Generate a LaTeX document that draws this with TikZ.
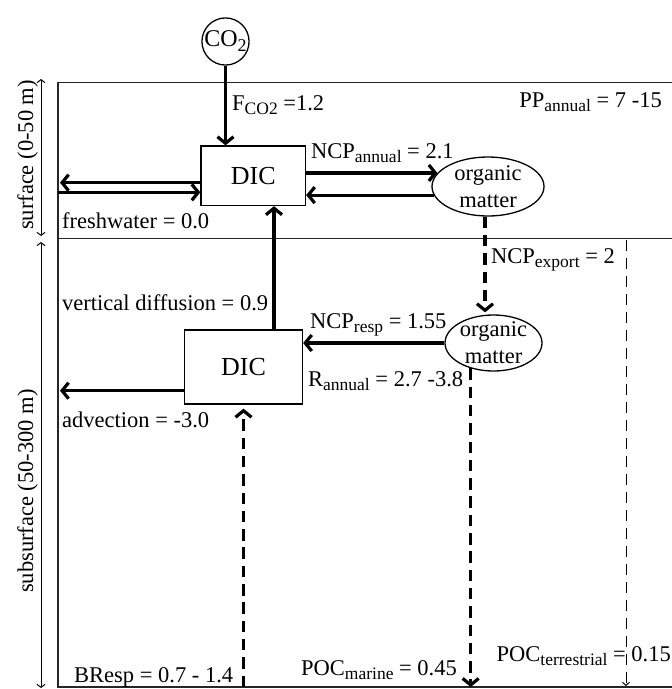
\documentclass[tikz,border=0pt]{standalone}
\usepackage{fontspec}
\setmainfont{Liberation Serif}
\usetikzlibrary{arrows.meta,shapes.geometric}
\newcommand\sbs[1]{\raisebox{-4.5pt}{\fontsize{17.5}{17.5}\selectfont #1}}
\begin{document}
\begin{tikzpicture}[x=1pt,y=-1pt,
  lbl/.style={font=\fontsize{22.5}{27}\selectfont, inner sep=0pt},
  boxn/.style={draw, line width=1.3pt, font=\fontsize{26}{30}\selectfont, inner sep=0pt},
  omell/.style={draw, ellipse, line width=1.3pt, inner sep=0pt},
  frameline/.style={line width=1.4pt, draw=black!85},
  arr/.style={line width=3.2pt, -{Straight Barb[length=6.5pt,width=16pt]}},
  darr/.style={arr, dash pattern=on 11.5pt off 6.8pt},
  tarr/.style={line width=1pt, dash pattern=on 11pt off 7pt, -{Straight Barb[length=3pt,width=7pt]}},
  dimarr/.style={line width=1pt, {Straight Barb[length=3pt,width=8pt]}-{Straight Barb[length=3pt,width=8pt]}}
]
\useasboundingbox (0,0) rectangle (672,689);

% frame
\coordinate (tl) at (58,82.5);
\coordinate (tr) at (672,82.5);
\coordinate (ml) at (58,238.5);
\coordinate (mr) at (672,238.5);
\coordinate (bl) at (58,687);
\coordinate (br) at (672,687);
\draw[frameline] (tr) -- (tl) -- (bl) -- (br);
\draw[frameline] (ml) -- (mr);

% depth arrows
\coordinate (s1) at (41,79);
\coordinate (s2) at (41,236);
\coordinate (s3) at (41,242);
\coordinate (s4) at (41,688);
\draw[dimarr] (s1) -- (s2);
\draw[dimarr] (s3) -- (s4);
\node[lbl, rotate=90, anchor=base] (surf) at (33,155) {surface (0-50 m)};
\node[lbl, rotate=90, anchor=base] (subsurf) at (33,491) {subsurface (50-300 m)};

% nodes
\node[draw, circle, line width=1.3pt, minimum size=47pt, inner sep=0pt, font=\fontsize{24}{28}\selectfont] (co2) at (225.5,41.5) {CO\raisebox{-5pt}{\fontsize{18}{18}\selectfont 2}};
\node[boxn, minimum width=104.5pt, minimum height=59.5pt] (dic1) at (253.25,175.75) {DIC};
\node[boxn, minimum width=118pt, minimum height=74pt] (dic2) at (243.5,367) {DIC};
\node[omell, minimum width=112pt, minimum height=59pt] (om1) at (488,186.5) {};
\node[lbl, align=center] (om1t) at (om1) {organic\\matter};
\node[omell, minimum width=97pt, minimum height=56pt] (om2) at (493.5,343) {};
\node[lbl, align=center] (om2t) at (om2) {organic\\matter};

% connectors
\draw[arr] (co2.south) -- (co2.south |- dic1.north);
\coordinate (fl1) at (60,182.7);
\coordinate (fl2) at (58,192.3);
\draw[arr] (dic1.west |- fl1) -- (fl1);
\draw[arr] (fl2) -- (dic1.west |- fl2);
\draw[arr] (dic1.east |- om1.165) -- (om1.165);
\draw[arr] (om1.189) -- (dic1.east |- om1.189);
\coordinate (vd) at (274,0);
\draw[arr] (dic2.north -| vd) -- (dic1.south -| vd);
\draw[darr, shorten >=2pt] ([xshift=-3pt]om1.south) -- ([xshift=-3pt]om1.south |- om2.north);
\draw[arr] (om2.west) -- (dic2.east |- om2.west);
\draw[darr] (om2.228) -- (om2.228 |- bl);
\draw[darr, shorten >=4pt] (dic2.south |- bl) -- (dic2.south);
\coordinate (t1) at (626,239.5);
\coordinate (t2) at (626,686);
\draw[tarr] (t1) -- (t2);
\coordinate (adv) at (60,390.7);
\draw[arr] (dic2.west |- adv) -- (adv);

% labels
\node[lbl, anchor=base west] (lfco2) at (232,110) {F\sbs{CO2} =1.2};
\node[lbl, anchor=base west] (lfw) at (62,228) {freshwater = 0.0};
\node[lbl, anchor=base west] (lncpa) at (311,158) {NCP\sbs{annual} = 2.1};
\node[lbl, anchor=base east] (lpp) at (662,107) {PP\sbs{annual} = 7 -15};
\node[lbl, anchor=base west] (lncpe) at (491,263) {NCP\sbs{export} = 2};
\node[lbl, anchor=base west] (lvd) at (62,310) {vertical diffusion = 0.9};
\node[lbl, anchor=base west] (lncpr) at (310,328) {NCP\sbs{resp} = 1.55};
\node[lbl, anchor=base west] (lra) at (308,386) {R\sbs{annual} = 2.7 -3.8};
\node[lbl, anchor=base west] (ladv) at (62,427) {advection = -3.0};
\node[lbl, anchor=base west] (lbr) at (74,682) {BResp = 0.7 - 1.4};
\node[lbl, anchor=base west] (lpm) at (301,675) {POC\sbs{marine} = 0.45};
\node[lbl, anchor=base east] (lpt) at (671,661) {POC\sbs{terrestrial} = 0.15};
\end{tikzpicture}
\end{document}
